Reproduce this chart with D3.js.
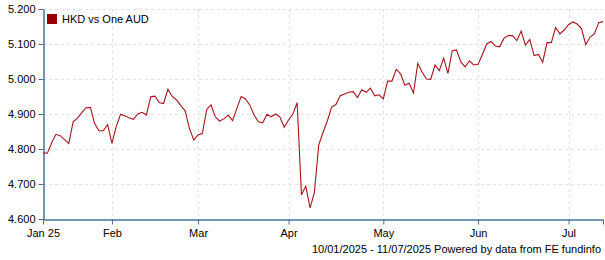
<!DOCTYPE html>
<html>
<head>
<meta charset="utf-8">
<script src="https://cdn.jsdelivr.net/npm/d3@7"></script>
<style>
  body { margin: 0; background: #fff; }
  svg text { font-family: "Liberation Sans", Arial, sans-serif; font-size: 11px; fill: #000; }
</style>
</head>
<body>
<svg id="chart" width="605" height="260"></svg>
<script>
// HKD per one AUD, one value per trading day, 10/01/2025 - 11/07/2025
var values = [
  4.789, 4.788, 4.817, 4.842, 4.838, 4.827, 4.816, 4.878, 4.888, 4.904,
  4.918, 4.919, 4.872, 4.852, 4.852, 4.870, 4.816, 4.864, 4.899, 4.894,
  4.889, 4.885, 4.900, 4.905, 4.897, 4.949, 4.951, 4.933, 4.930, 4.971,
  4.950, 4.940, 4.924, 4.909, 4.858, 4.826, 4.840, 4.845, 4.913, 4.926,
  4.892, 4.880, 4.886, 4.897, 4.881, 4.916, 4.950, 4.943, 4.926, 4.897,
  4.878, 4.875, 4.899, 4.892, 4.900, 4.891, 4.862, 4.883, 4.900, 4.932,
  4.669, 4.694, 4.632, 4.675, 4.811, 4.847, 4.880, 4.920, 4.927, 4.952,
  4.957, 4.962, 4.964, 4.947, 4.969, 4.962, 4.974, 4.952, 4.955, 4.943,
  4.994, 4.994, 5.028, 5.015, 4.982, 4.988, 4.960, 5.045, 5.020, 5.000,
  4.999, 5.040, 5.024, 5.060, 5.016, 5.081, 5.083, 5.049, 5.035, 5.052,
  5.040, 5.042, 5.070, 5.100, 5.107, 5.094, 5.092, 5.116, 5.124, 5.124,
  5.110, 5.137, 5.097, 5.113, 5.067, 5.070, 5.048, 5.104, 5.104, 5.147,
  5.129, 5.140, 5.155, 5.163, 5.157, 5.144, 5.098, 5.120, 5.129, 5.161,
  5.164
];
var monthLabels = ["Jan 25", "Feb", "Mar", "Apr", "May", "Jun", "Jul"];
var monthIndex = [0, 16, 36, 57, 79, 101, 122];
var yTicks = [4.6, 4.7, 4.8, 4.9, 5.0, 5.1, 5.2];
var seriesName = "HKD vs One AUD";
var footer = "10/01/2025 - 11/07/2025 Powered by data from FE fundinfo";

var svg = d3.select("#chart");
var plotL = 43, plotR = 603, plotT = 9, plotB = 219;
var axisColor = "#4a6f9e";

var x = d3.scaleLinear().domain([0, values.length - 1]).range([plotL, plotR]);
var y = d3.scaleLinear().domain([4.6, 5.2]).range([plotB, plotT]);

// grid
svg.append("g").selectAll("line").data(yTicks.slice(1)).enter().append("line")
    .attr("x1", plotL).attr("x2", plotR)
    .attr("y1", function(d) { return Math.round(y(d)) + 0.5; })
    .attr("y2", function(d) { return Math.round(y(d)) + 0.5; })
    .attr("stroke", "#e3e3e3").attr("stroke-dasharray", "3,3");
svg.append("g").selectAll("line").data(monthIndex.slice(1)).enter().append("line")
    .attr("x1", function(d) { return Math.round(x(d)) + 0.5; })
    .attr("x2", function(d) { return Math.round(x(d)) + 0.5; })
    .attr("y1", plotT).attr("y2", plotB)
    .attr("stroke", "#e3e3e3").attr("stroke-dasharray", "3,3");

// y axis
var yAxis = d3.axisLeft(y).tickValues(yTicks).tickFormat(d3.format(".3f")).tickSize(5).tickPadding(3).tickSizeOuter(0);
var gy = svg.append("g").attr("transform", "translate(" + (plotL + 0.5) + ",0)").call(yAxis);
gy.select(".domain").attr("stroke", axisColor).attr("stroke-width", 1.5);
gy.selectAll(".tick line").attr("stroke", axisColor);
gy.selectAll("text").attr("font-size", 11).attr("font-family", "Liberation Sans, Arial, sans-serif");

// x axis
var xAxis = d3.axisBottom(x).tickValues(monthIndex.concat([values.length - 1]))
    .tickFormat(function(d) { var k = monthIndex.indexOf(d); return k < 0 ? "" : monthLabels[k]; })
    .tickSize(5).tickPadding(5).tickSizeOuter(0);
var gx = svg.append("g").attr("transform", "translate(0," + (plotB + 0.5) + ")").call(xAxis);
gx.select(".domain").attr("stroke", axisColor).attr("stroke-width", 1.5);
gx.selectAll(".tick line").attr("stroke", axisColor);
gx.selectAll("text").attr("font-size", 11).attr("font-family", "Liberation Sans, Arial, sans-serif");

// series line
var line = d3.line()
    .x(function(d, i) { return x(i); })
    .y(function(d) { return y(d); });
svg.append("path").datum(values)
    .attr("d", line)
    .attr("fill", "none")
    .attr("stroke", "#a8141b")
    .attr("stroke-width", 1.1);

// legend
svg.append("rect").attr("x", 47).attr("y", 14).attr("width", 10).attr("height", 10).attr("fill", "#990000");
svg.append("text").attr("x", 62).attr("y", 23).text(seriesName);

// footer
svg.append("text").attr("x", 601).attr("y", 253).attr("text-anchor", "end").text(footer);
</script>
</body>
</html>
